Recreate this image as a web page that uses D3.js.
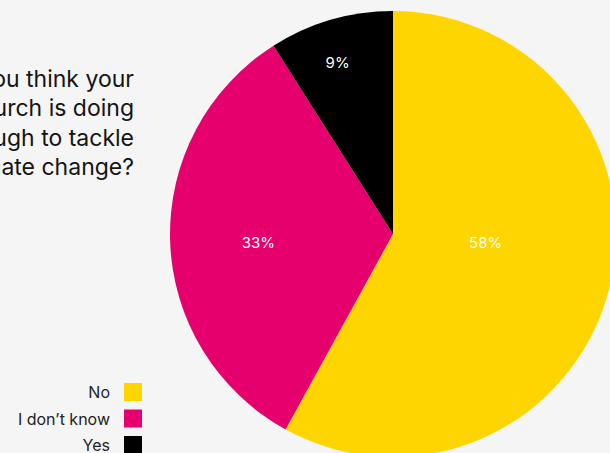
<!DOCTYPE html>
<html><head><meta charset="utf-8">
<script src="https://cdn.jsdelivr.net/npm/d3@7"></script>
<style>
html,body{margin:0;padding:0;background:#f5f5f5;}
svg{display:block;font-family:Inter,"Noto Sans",sans-serif;}
</style></head>
<body>
<svg id="chart" width="610" height="453"></svg>
<script>
const categories = ["No", "I don\u2019t know", "Yes"];
const values = [58, 33, 9];
const valueLabels = ["58%", "33%", "9%"];
const colors = ["#ffd500", "#e6006e", "#000000"];
const titleLines = ["Do you think your", "church is doing", "enough to tackle", "climate change?"];

// layout (not data)
const cx = 393, cy = 234, R = 223;
const labelPolar = [ // [radius, angle offset from slice mid (rad)]
  [93, -0.16], [135, -0.035], [180, -0.03]
];

const svg = d3.select("#chart");
const pie = d3.pie().sort(null).value(d => d)(values);
const arc = d3.arc().innerRadius(0).outerRadius(R);
const g = svg.append("g").attr("transform", `translate(${cx},${cy})`);
g.selectAll("path").data(pie).join("path")
  .attr("d", arc).attr("fill", (d, i) => colors[i]);

g.selectAll("text.lbl").data(pie).join("text")
  .attr("class", "lbl")
  .each(function(d, i) {
    const a = (d.startAngle + d.endAngle) / 2 + labelPolar[i][1];
    const r = labelPolar[i][0];
    d3.select(this).attr("x", r * Math.sin(a)).attr("y", -r * Math.cos(a));
  })
  .attr("text-anchor", "middle").attr("dominant-baseline", "central")
  .attr("fill", "#fff").attr("font-size", 15)
  .text((d, i) => valueLabels[i]);

// title
svg.append("text").attr("text-anchor", "end").attr("fill", "#141414")
  .attr("font-size", 23)
  .selectAll("tspan").data(titleLines).join("tspan")
  .attr("x", 134).attr("y", (d, i) => 87 + i * 29.3)
  .text(d => d);

// legend
const lg = svg.append("g");
const items = lg.selectAll("g").data(categories).join("g")
  .attr("transform", (d, i) => `translate(0,${383 + i * 26.5})`);
items.append("rect").attr("x", 124).attr("y", 0).attr("width", 18).attr("height", 18)
  .attr("fill", (d, i) => colors[i]);
items.append("text").attr("x", 110).attr("y", 9).attr("text-anchor", "end")
  .attr("dominant-baseline", "central").attr("fill", "#222").attr("font-size", 16)
  .text(d => d);
</script>
</body></html>
